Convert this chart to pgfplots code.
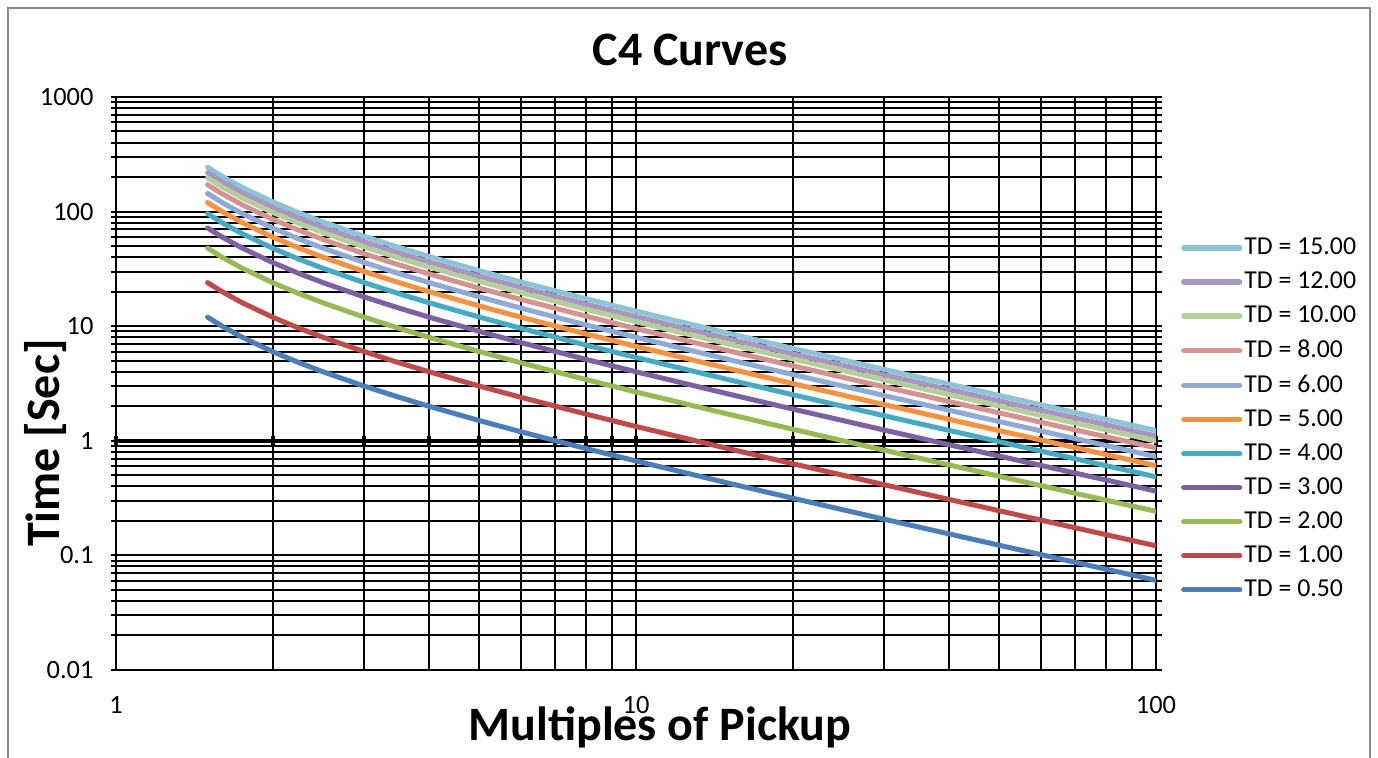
\documentclass[border=0pt]{standalone}
\usepackage{fontspec}
\setmainfont{Carlito}
\usepackage{pgfplots}
\usepackage{pgfplotstable}
\pgfplotsset{compat=1.18}

\definecolor{c05}{HTML}{4A7EBB}
\definecolor{c1}{HTML}{BE4B48}
\definecolor{c2}{HTML}{98B954}
\definecolor{c3}{HTML}{7D60A0}
\definecolor{c4}{HTML}{46AAC5}
\definecolor{c5}{HTML}{F69240}
\definecolor{c6}{HTML}{8EAAD5}
\definecolor{c8}{HTML}{D29391}
\definecolor{c10}{HTML}{B6CF98}
\definecolor{c12}{HTML}{A797C0}
\definecolor{c15}{HTML}{8CC3D6}

% columns: a=TD0.5 b=1 c=2 d=3 e=4 f=5 g=6 h=8 i=10 j=12 k=15
\pgfplotstableread{
M a b c d e f g h i j k
1.5 12 24 48 72 96 120 144 171.6 196.8 218.4 243.6
1.6 10 20 40 60 80 100 120 143.0 164.0 182.0 203.0
1.75 8 16 32 48 64 80 96 114.4 131.2 145.6 162.4
2 6 12 24 36 48 60 72 85.8 98.4 109.2 121.8
2.25 4.8 9.6 19.2 28.8 38.4 48 57.6 68.64 78.72 87.36 97.44
2.5 4 8 16 24 32 40 48 57.2 65.6 72.8 81.2
3 3 6 12 18 24 30 36 42.9 49.2 54.6 60.9
3.5 2.4 4.8 9.6 14.4 19.2 24 28.8 34.32 39.36 43.68 48.72
4 2 4 8 12 16 20 24 28.6 32.8 36.4 40.6
5 1.5 3 6 9 12 15 18 21.45 24.6 27.3 30.45
6 1.2 2.4 4.8 7.2 9.6 12 14.4 17.16 19.68 21.84 24.36
8 0.857143 1.714286 3.428571 5.142857 6.857143 8.571429 10.285714 12.257143 14.057143 15.6 17.4
10 0.666667 1.333333 2.666667 4 5.333333 6.666667 8 9.533333 10.933333 12.133333 13.533333
15 0.428571 0.857143 1.714286 2.571429 3.428571 4.285714 5.142857 6.128571 7.028571 7.8 8.7
20 0.315789 0.631579 1.263158 1.894737 2.526316 3.157895 3.789474 4.515789 5.178947 5.747368 6.410526
30 0.206897 0.413793 0.827586 1.241379 1.655172 2.068966 2.482759 2.958621 3.393103 3.765517 4.2
50 0.122449 0.244898 0.489796 0.734694 0.979592 1.224490 1.469388 1.751020 2.008163 2.228571 2.485714
70 0.086957 0.173913 0.347826 0.521739 0.695652 0.869565 1.043478 1.243478 1.426087 1.582609 1.765217
100 0.060606 0.121212 0.242424 0.363636 0.484848 0.606061 0.727273 0.866667 0.993939 1.103030 1.230303
}\curves

\begin{document}
\begin{tikzpicture}
\path[use as bounding box] (0pt,0pt) rectangle (689pt,379pt);
\draw[black!45, line width=1pt] (4pt,-5pt) -- (4pt,375pt) -- (685pt,375pt) -- (685pt,-5pt);
% horizontal axis crossing at 1: tick marks only
\begin{axis}[
  at={(58pt,44pt)}, anchor=south west,
  scale only axis, width=520pt, height=286.5pt,
  xmode=log, xmin=1, xmax=100, ymin=-2, ymax=3,
  axis x line=middle, axis y line=none,
  axis line style={draw=none},
  xticklabel=\empty,
  tick align=center,
  major tick length=5pt, minor tick length=5pt,
  tick style={black, line width=2pt},
]
\end{axis}
\begin{axis}[
  at={(58pt,44pt)}, anchor=south west,
  scale only axis, width=520pt, height=286.5pt,
  xmode=log, ymode=log,
  xmin=1, xmax=100, ymin=0.01, ymax=1000,
  log ticks with fixed point,
  /pgf/number format/1000 sep={},
  /pgf/number format/assume math mode=true,
  grid=both,
  major grid style={black, line width=1pt},
  minor grid style={black, line width=1pt},
  axis line style={black, line width=1pt},
  tick align=center,
  major tick length=5.5pt, minor tick length=5.5pt,
  tick style={black, line width=1pt},
  xtick style={draw=none},
  ticklabel style={font=\fontsize{13.2}{15}\selectfont},
  xticklabel style={yshift=-7pt},
  yticklabel style={xshift=-5pt},
  extra y ticks={1},
  extra y tick style={major grid style={black, line width=2.2pt}, yticklabel={}},
  title={C4 Curves},
  title style={font=\fontsize{24}{28}\selectfont\bfseries, at={(axis description cs:0.552,1.061)}, anchor=center},
  xlabel={Multiples of Pickup},
  xlabel style={font=\fontsize{24}{28}\selectfont\bfseries, at={(axis description cs:0.523,-0.101)}, anchor=center},
  ylabel={Time [Sec]},
  ylabel style={font=\fontsize{24}{28}\selectfont\bfseries, at={(axis description cs:-0.068,0.396)}, anchor=center},
  legend cell align=left,
  legend style={at={(axis description cs:1.018,0.765)}, anchor=north west, draw=none, fill=none,
    font=\fontsize{12.9}{15}\selectfont, row sep=5.15pt,
    nodes={inner sep=1pt, font=\fontsize{12.9}{15}\selectfont}},
  legend image code/.code={\draw[#1, line width=2.6pt, line cap=round] (0pt,0pt) -- (28pt,0pt);},
  every axis plot/.append style={line width=2.5pt, line cap=round, line join=round},
]
\addplot[c15] table[x=M,y=k]{\curves}; \addlegendentry{TD = 15.00}
\addplot[c12] table[x=M,y=j]{\curves}; \addlegendentry{TD = 12.00}
\addplot[c10] table[x=M,y=i]{\curves}; \addlegendentry{TD = 10.00}
\addplot[c8] table[x=M,y=h]{\curves}; \addlegendentry{TD = 8.00}
\addplot[c6] table[x=M,y=g]{\curves}; \addlegendentry{TD = 6.00}
\addplot[c5] table[x=M,y=f]{\curves}; \addlegendentry{TD = 5.00}
\addplot[c4] table[x=M,y=e]{\curves}; \addlegendentry{TD = 4.00}
\addplot[c3] table[x=M,y=d]{\curves}; \addlegendentry{TD = 3.00}
\addplot[c2] table[x=M,y=c]{\curves}; \addlegendentry{TD = 2.00}
\addplot[c1] table[x=M,y=b]{\curves}; \addlegendentry{TD = 1.00}
\addplot[c05] table[x=M,y=a]{\curves}; \addlegendentry{TD = 0.50}
\end{axis}
\end{tikzpicture}
\end{document}
